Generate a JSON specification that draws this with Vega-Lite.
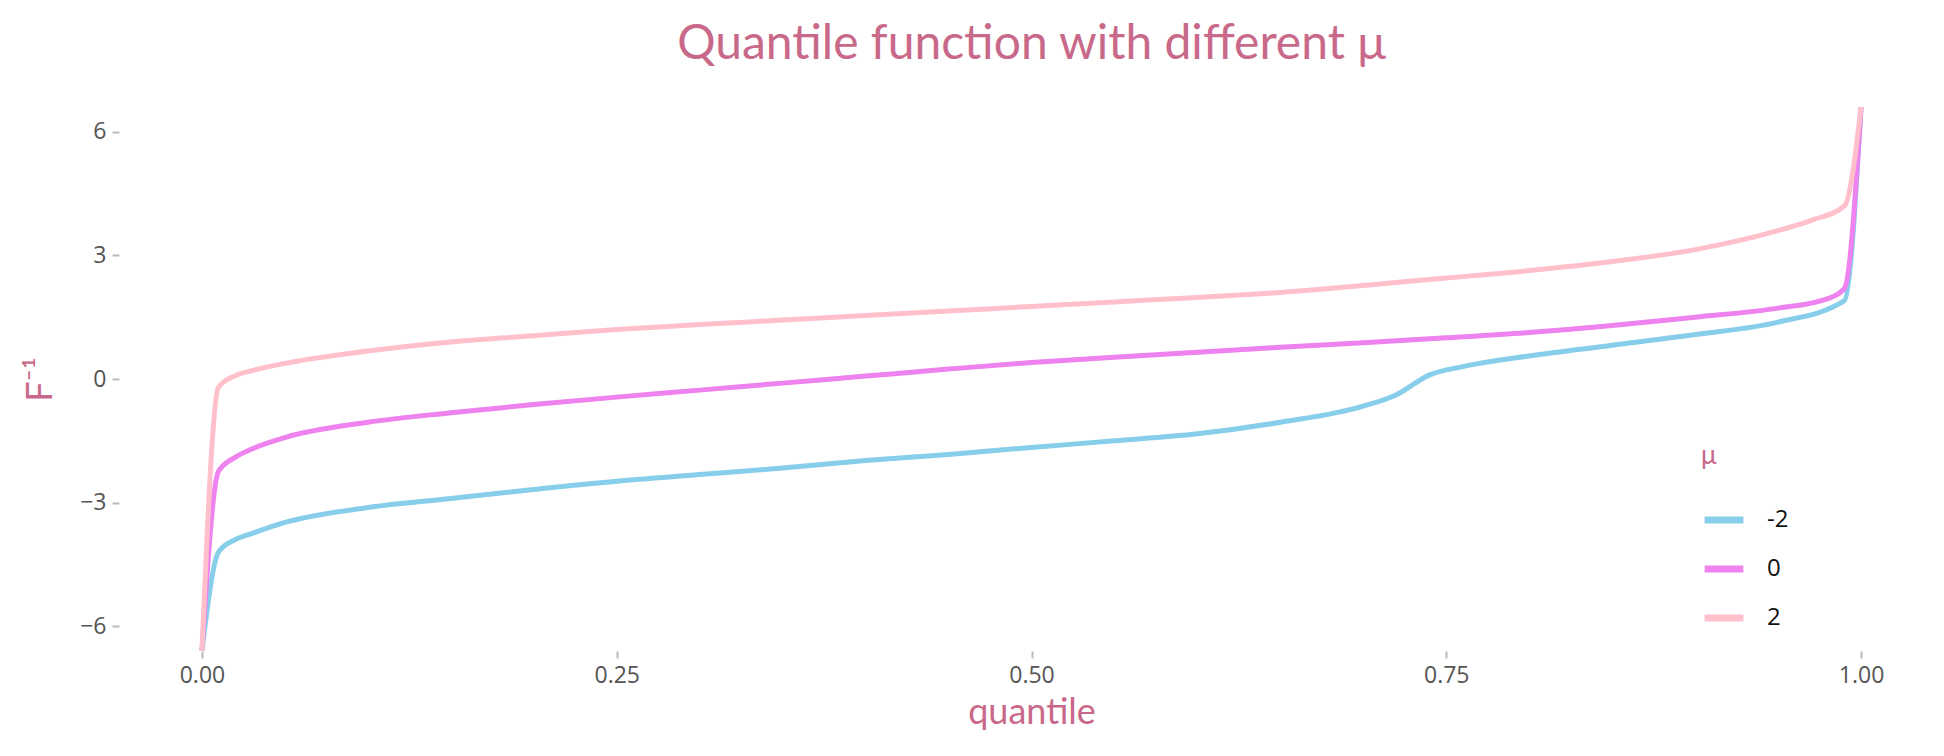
{
  "$schema": "https://vega.github.io/schema/vega-lite/v6.json",
  "autosize": "none",
  "padding": {"left": 119, "top": 107, "right": 0, "bottom": 105},
  "width": 1825,
  "height": 544,
  "background": "white",
  "title": {"text": "Quantile function with different μ", "font": "Lato", "fontSize": 48, "fontWeight": "normal", "color": "#c9698a", "offset": 38, "anchor": "middle"},
  "data": {"values": [
    {"q": 0, "mu": "-2", "y": -6.6}, {"q": 0.01, "mu": "-2", "y": -4.2}, {"q": 0.02, "mu": "-2", "y": -3.9}, {"q": 0.03, "mu": "-2", "y": -3.75}, {"q": 0.05, "mu": "-2", "y": -3.48}, {"q": 0.1, "mu": "-2", "y": -3.12}, {"q": 0.15, "mu": "-2", "y": -2.9}, {"q": 0.2, "mu": "-2", "y": -2.68}, {"q": 0.25, "mu": "-2", "y": -2.48}, {"q": 0.3, "mu": "-2", "y": -2.32}, {"q": 0.35, "mu": "-2", "y": -2.16}, {"q": 0.4, "mu": "-2", "y": -1.98}, {"q": 0.45, "mu": "-2", "y": -1.83}, {"q": 0.5, "mu": "-2", "y": -1.66}, {"q": 0.55, "mu": "-2", "y": -1.5}, {"q": 0.6, "mu": "-2", "y": -1.33}, {"q": 0.65, "mu": "-2", "y": -1.05}, {"q": 0.7, "mu": "-2", "y": -0.66}, {"q": 0.72, "mu": "-2", "y": -0.38}, {"q": 0.74, "mu": "-2", "y": 0.1}, {"q": 0.76, "mu": "-2", "y": 0.3}, {"q": 0.8, "mu": "-2", "y": 0.56}, {"q": 0.85, "mu": "-2", "y": 0.82}, {"q": 0.9, "mu": "-2", "y": 1.08}, {"q": 0.95, "mu": "-2", "y": 1.38}, {"q": 0.99, "mu": "-2", "y": 1.9}, {"q": 1, "mu": "-2", "y": 6.6},
    {"q": 0, "mu": "0", "y": -6.6}, {"q": 0.01, "mu": "0", "y": -2.24}, {"q": 0.02, "mu": "0", "y": -1.9}, {"q": 0.03, "mu": "0", "y": -1.7}, {"q": 0.05, "mu": "0", "y": -1.42}, {"q": 0.1, "mu": "0", "y": -1.05}, {"q": 0.15, "mu": "0", "y": -0.82}, {"q": 0.2, "mu": "0", "y": -0.62}, {"q": 0.25, "mu": "0", "y": -0.44}, {"q": 0.3, "mu": "0", "y": -0.27}, {"q": 0.35, "mu": "0", "y": -0.1}, {"q": 0.4, "mu": "0", "y": 0.07}, {"q": 0.45, "mu": "0", "y": 0.24}, {"q": 0.5, "mu": "0", "y": 0.4}, {"q": 0.55, "mu": "0", "y": 0.53}, {"q": 0.6, "mu": "0", "y": 0.65}, {"q": 0.65, "mu": "0", "y": 0.77}, {"q": 0.7, "mu": "0", "y": 0.88}, {"q": 0.75, "mu": "0", "y": 1.0}, {"q": 0.8, "mu": "0", "y": 1.13}, {"q": 0.85, "mu": "0", "y": 1.3}, {"q": 0.9, "mu": "0", "y": 1.5}, {"q": 0.95, "mu": "0", "y": 1.72}, {"q": 0.98, "mu": "0", "y": 1.95}, {"q": 0.99, "mu": "0", "y": 2.2}, {"q": 1, "mu": "0", "y": 6.6},
    {"q": 0, "mu": "2", "y": -6.6}, {"q": 0.01, "mu": "2", "y": -0.2}, {"q": 0.02, "mu": "2", "y": 0.08}, {"q": 0.03, "mu": "2", "y": 0.2}, {"q": 0.05, "mu": "2", "y": 0.38}, {"q": 0.1, "mu": "2", "y": 0.68}, {"q": 0.15, "mu": "2", "y": 0.9}, {"q": 0.2, "mu": "2", "y": 1.05}, {"q": 0.25, "mu": "2", "y": 1.2}, {"q": 0.3, "mu": "2", "y": 1.32}, {"q": 0.35, "mu": "2", "y": 1.43}, {"q": 0.4, "mu": "2", "y": 1.54}, {"q": 0.45, "mu": "2", "y": 1.65}, {"q": 0.5, "mu": "2", "y": 1.76}, {"q": 0.55, "mu": "2", "y": 1.87}, {"q": 0.6, "mu": "2", "y": 1.98}, {"q": 0.65, "mu": "2", "y": 2.1}, {"q": 0.7, "mu": "2", "y": 2.27}, {"q": 0.75, "mu": "2", "y": 2.45}, {"q": 0.8, "mu": "2", "y": 2.63}, {"q": 0.85, "mu": "2", "y": 2.85}, {"q": 0.9, "mu": "2", "y": 3.14}, {"q": 0.95, "mu": "2", "y": 3.6}, {"q": 0.97, "mu": "2", "y": 3.85}, {"q": 0.99, "mu": "2", "y": 4.2}, {"q": 1, "mu": "2", "y": 6.6}
  ]},
  "mark": {"type": "line", "strokeWidth": 5, "clip": true, "interpolate": "monotone"},
  "encoding": {
    "x": {"field": "q", "type": "quantitative", "scale": {"domain": [-0.05, 1.05], "nice": false, "zero": false},
      "axis": {"title": "quantile", "values": [0, 0.25, 0.5, 0.75, 1], "format": ".2f"}},
    "y": {"field": "y", "type": "quantitative", "scale": {"domain": [-6.6, 6.6], "nice": false},
      "axis": {"title": "F⁻¹", "values": [-6, -3, 0, 3, 6], "labelExpr": "format(datum.value, 'd')"}},
    "color": {"field": "mu", "type": "nominal", "sort": ["-2", "0", "2"],
      "scale": {"domain": ["-2", "0", "2"], "range": ["#87ceeb", "#ee82ee", "#ffc0cb"]},
      "legend": {"title": "μ", "orient": "none", "legendX": 1582, "legendY": 336, "symbolType": "stroke", "symbolStrokeWidth": 7, "symbolSize": 1500, "rowPadding": 12, "titlePadding": 28, "labelFontSize": 24, "titleFontSize": 26, "titleColor": "#c9698a", "titleFont": "Lato", "titleFontWeight": "normal", "labelColor": "#111", "labelFont": "Open Sans", "labelOffset": 20}}
  },
  "config": {
    "view": {"stroke": null},
    "axis": {"domain": false, "grid": false, "tickColor": "#bbbbbb", "tickWidth": 2, "tickSize": 7, "labelFont": "Open Sans", "labelFontSize": 23, "labelColor": "#555", "labelPadding": 6, "titleFont": "Lato", "titleFontSize": 36, "titleFontWeight": "normal", "titleColor": "#c9698a"},
    "axisX": {"titlePadding": 8},
    "axisY": {"titlePadding": 20}
  }
}
